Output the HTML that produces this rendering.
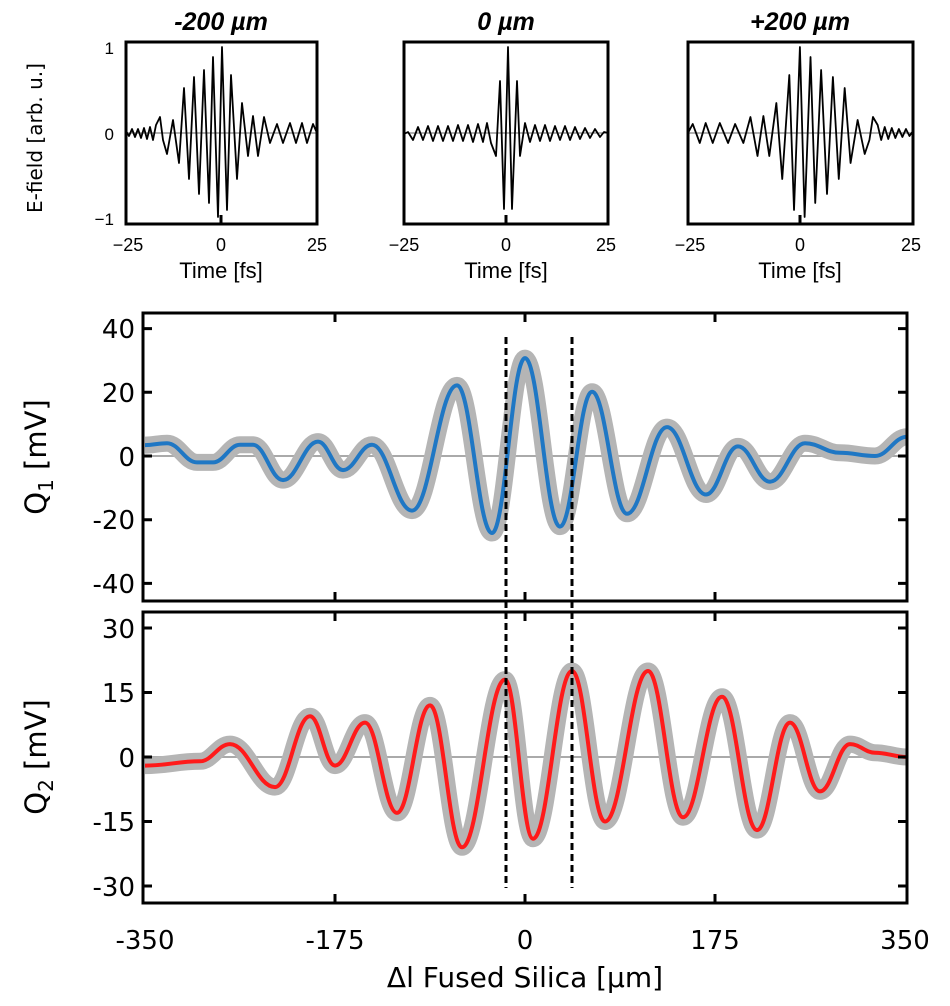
<!DOCTYPE html>
<html><head><meta charset="utf-8"><style>
html,body{margin:0;padding:0;background:#fff;}
svg{display:block;font-family:"DejaVu Sans","Liberation Sans",sans-serif;}
</style></head><body>
<svg width="950" height="1006" viewBox="0 0 950 1006" xmlns="http://www.w3.org/2000/svg">
<g font-family="Liberation Sans, sans-serif">
<text x="221" y="30" font-size="25" font-weight="bold" font-style="italic" text-anchor="middle">-200 µm</text>
<text x="506" y="30" font-size="25" font-weight="bold" font-style="italic" text-anchor="middle">0 µm</text>
<text x="800" y="30" font-size="25" font-weight="bold" font-style="italic" text-anchor="middle">+200 µm</text>
<text x="114" y="54" font-size="17" text-anchor="end">1</text>
<text x="114" y="140" font-size="17" text-anchor="end">0</text>
<text x="114" y="225" font-size="17" text-anchor="end">−1</text>
<g font-size="18" text-anchor="middle">
<text x="128" y="251">−25</text><text x="221" y="251">0</text><text x="317" y="251">25</text>
<text x="404" y="251">−25</text><text x="506" y="251">0</text><text x="606" y="251">25</text>
<text x="690" y="251">−25</text><text x="800" y="251">0</text><text x="911" y="251">25</text>
</g>
<g font-size="22" text-anchor="middle">
<text x="221" y="278">Time [fs]</text><text x="506" y="278">Time [fs]</text><text x="800" y="278">Time [fs]</text>
</g>
</g>
<text x="42" y="138" font-size="20" text-anchor="middle" transform="rotate(-90 42 138)">E-field [arb. u.]</text>
<g stroke="#666" stroke-width="1">
<line x1="126" x2="317" y1="133" y2="133"/><line x1="404" x2="608" y1="133" y2="133"/><line x1="688" x2="913" y1="133" y2="133"/>
</g>
<g fill="none" stroke="#000" stroke-width="1.8" stroke-linejoin="round">
<polyline points="126,131 129,136 132,129 135,137 138,129 141,138 144,128 147,139 150,127 153,140 156,125 160,117 163,140 167,154 173,120 179,163 184,88 189,179 194,77 199,194 204,70 209,203 213,57 218,217 222,47 227,210 231,75 237,179 242,103 248,156 253,116 258,156 264,117 270,143 277,124 283,143 290,123 296,143 302,123 307,143 313,124 317,133"/>
<polyline transform="translate(913,0) scale(-1.178,1) translate(-126,0)" vector-effect="non-scaling-stroke" points="126,131 129,136 132,129 135,137 138,129 141,138 144,128 147,139 150,127 153,140 156,125 160,117 163,140 167,154 173,120 179,163 184,88 189,179 194,77 199,194 204,70 209,203 213,57 218,217 222,47 227,210 231,75 237,179 242,103 248,156 253,116 258,156 264,117 270,143 277,124 283,143 290,123 296,143 302,123 307,143 313,124 317,133"/>
<polyline points="404,134 408,132 413,140 418,127 423,140 428,126 433,141 438,126 443,141 448,126 453,141 458,125 463,141 468,125 473,142 478,124 483,142 487,123 491,143 496,156 500,81 504,209 508,47 512,209 517,81 520,156 525,123 530,142 535,125 540,141 545,125 550,141 555,126 560,140 565,126 570,140 575,127 580,139 585,128 590,138 595,129 600,137 604,132 608,133"/>
</g>
<g fill="none" stroke="#000" stroke-width="3">
<rect x="126" y="42" width="191" height="182"/>
<rect x="404" y="42" width="204" height="182"/>
<rect x="688" y="42" width="225" height="182"/>
<line x1="221" x2="221" y1="224" y2="215"/><line x1="506" x2="506" y1="224" y2="215"/><line x1="800" x2="800" y1="224" y2="215"/>
</g>

<line x1="143" x2="907" y1="456" y2="456" stroke="#aaa" stroke-width="2"/>
<g fill="none" stroke-linejoin="round">
<path d="M145 445.1 C153.8 445.1 158.2 443.2 167 443.2 C179 443.2 185 462.4 197 462.4 C203.4 462.4 206.6 462.4 213 462.4 C223.8 462.4 229.2 444.8 240 444.8 C245.2 444.8 247.8 444.8 253 444.8 C265 444.8 271 480.1 283 480.1 C297 480.1 304 441.6 318 441.6 C328 441.6 333 470.1 343 470.1 C354.6 470.1 360.4 444.8 372 444.8 C388 444.8 396 510.6 412 510.6 C430 510.6 439 385.4 457 385.4 C471 385.4 478 533 492 533 C505.2 533 511.8 358.1 525 358.1 C539 358.1 546 526.6 560 526.6 C572.8 526.6 579.2 391.8 592 391.8 C606 391.8 613 513.8 627 513.8 C643 513.8 651 427.1 667 427.1 C682.6 427.1 690.4 494.5 706 494.5 C718.8 494.5 725.2 446.4 738 446.4 C750.8 446.4 757.2 481.7 770 481.7 C784 481.7 791 443.2 805 443.2 C819 443.2 826 452.8 840 452.8 C854 452.8 861 456 875 456 C887.8 456 894.2 436.7 907 436.7" stroke="#b5b5b5" stroke-width="17"/>
<path d="M145 445.1 C153.8 445.1 158.2 443.2 167 443.2 C179 443.2 185 462.4 197 462.4 C203.4 462.4 206.6 462.4 213 462.4 C223.8 462.4 229.2 444.8 240 444.8 C245.2 444.8 247.8 444.8 253 444.8 C265 444.8 271 480.1 283 480.1 C297 480.1 304 441.6 318 441.6 C328 441.6 333 470.1 343 470.1 C354.6 470.1 360.4 444.8 372 444.8 C388 444.8 396 510.6 412 510.6 C430 510.6 439 385.4 457 385.4 C471 385.4 478 533 492 533 C505.2 533 511.8 358.1 525 358.1 C539 358.1 546 526.6 560 526.6 C572.8 526.6 579.2 391.8 592 391.8 C606 391.8 613 513.8 627 513.8 C643 513.8 651 427.1 667 427.1 C682.6 427.1 690.4 494.5 706 494.5 C718.8 494.5 725.2 446.4 738 446.4 C750.8 446.4 757.2 481.7 770 481.7 C784 481.7 791 443.2 805 443.2 C819 443.2 826 452.8 840 452.8 C854 452.8 861 456 875 456 C887.8 456 894.2 436.7 907 436.7" stroke="#1f77c4" stroke-width="4"/>
</g>

<line x1="143" x2="907" y1="757" y2="757" stroke="#aaa" stroke-width="2"/>
<g fill="none" stroke-linejoin="round">
<path stroke="#b5b5b5" stroke-width="17" d="M145 765.6 C167 765.6 178 761.3 200 761.3 C212 761.3 218 744.1 230 744.1 C248 744.1 257 787.1 275 787.1 C289 787.1 296 716.2 310 716.2 C320 716.2 325 765.6 335 765.6 C347 765.6 353 722.6 365 722.6 C377.8 722.6 384.2 812.9 397 812.9 C410.2 812.9 416.8 705.4 430 705.4 C442.8 705.4 449.2 847.3 462 847.3 C479.2 847.3 487.8 679.6 505 679.6 C516.2 679.6 521.8 838.7 533 838.7 C548.6 838.7 556.4 671 572 671 C585.2 671 591.8 821.5 605 821.5 C622.2 821.5 630.8 671 648 671 C662 671 669 817.2 683 817.2 C698.6 817.2 706.4 696.8 722 696.8 C736 696.8 743 830.1 757 830.1 C770.2 830.1 776.8 722.6 790 722.6 C802 722.6 808 791.4 820 791.4 C832 791.4 838 744.1 850 744.1 C860 744.1 865 752.7 875 752.7 C887.8 752.7 894.2 757 907 757"/>
<path stroke="#ff1a1a" stroke-width="4" d="M145 765.6 C167 765.6 178 761.3 200 761.3 C212 761.3 218 744.1 230 744.1 C248 744.1 257 787.1 275 787.1 C289 787.1 296 716.2 310 716.2 C320 716.2 325 765.6 335 765.6 C347 765.6 353 722.6 365 722.6 C377.8 722.6 384.2 812.9 397 812.9 C410.2 812.9 416.8 705.4 430 705.4 C442.8 705.4 449.2 847.3 462 847.3 C479.2 847.3 487.8 679.6 505 679.6 C516.2 679.6 521.8 838.7 533 838.7 C548.6 838.7 556.4 671 572 671 C585.2 671 591.8 821.5 605 821.5 C622.2 821.5 630.8 671 648 671 C662 671 669 817.2 683 817.2 C698.6 817.2 706.4 696.8 722 696.8 C736 696.8 743 830.1 757 830.1 C770.2 830.1 776.8 722.6 790 722.6 C802 722.6 808 791.4 820 791.4 C832 791.4 838 744.1 850 744.1 C860 744.1 865 752.7 875 752.7 C887.8 752.7 894.2 757 907 757"/>
</g>

<g fill="none" stroke="#000" stroke-width="3">
<rect x="143" y="313" width="764" height="288"/>
<rect x="143" y="612" width="764" height="291"/>
<path d="M143 328.6h9M143 392.3h9M143 456h9M143 519.7h9M143 583.4h9 M907 328.6h-9M907 392.3h-9M907 456h-9M907 519.7h-9M907 583.4h-9"/>
<path d="M143 628h9M143 692.5h9M143 757h9M143 821.5h9M143 886h9 M907 628h-9M907 692.5h-9M907 757h-9M907 821.5h-9M907 886h-9"/>
<path d="M335 313v9M525 313v9M715 313v9M335 601v-9M525 601v-9M715 601v-9 M335 612v9M525 612v9M715 612v9M335 903v-9M525 903v-9M715 903v-9"/>
</g>
<g stroke="#000" stroke-width="3" stroke-dasharray="7,4">
<line x1="506" x2="506" y1="337" y2="888"/><line x1="572" x2="572" y1="337" y2="888"/>
</g>
<g font-size="26" text-anchor="end">
<text x="135" y="338">40</text><text x="135" y="402">20</text><text x="135" y="466">0</text><text x="135" y="529">-20</text><text x="135" y="593">-40</text>
<text x="135" y="638">30</text><text x="135" y="702">15</text><text x="135" y="767">0</text><text x="135" y="831">-15</text><text x="135" y="896">-30</text>
</g>
<g font-size="26" text-anchor="middle">
<text x="145" y="949">-350</text><text x="335" y="949">-175</text><text x="525" y="949">0</text><text x="715" y="949">175</text><text x="905" y="949">350</text>
</g>
<text x="46" y="457" font-size="29" text-anchor="middle" transform="rotate(-90 46 457)">Q<tspan font-size="20" dy="7">1</tspan><tspan dy="-7"> [mV]</tspan></text>
<text x="46" y="757" font-size="29" text-anchor="middle" transform="rotate(-90 46 757)">Q<tspan font-size="20" dy="7">2</tspan><tspan dy="-7"> [mV]</tspan></text>
<text x="525" y="987" font-size="28" text-anchor="middle">Δl Fused Silica [µm]</text>
</svg>
</body></html>
